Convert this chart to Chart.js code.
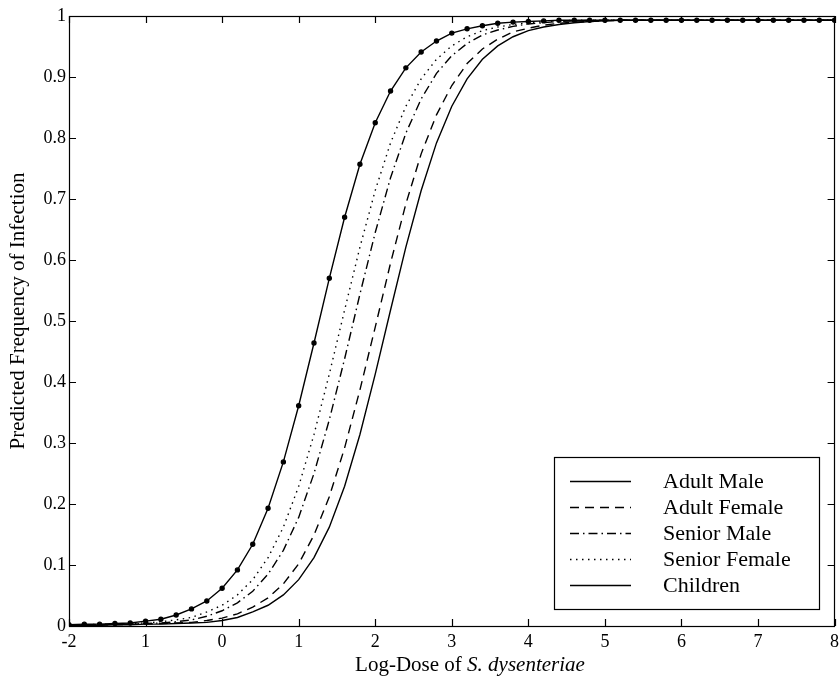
<!DOCTYPE html>
<html>
<head>
<meta charset="utf-8">
<script src="https://cdn.jsdelivr.net/npm/chart.js@4"></script>
<style>
  body { margin: 0; background: #fff; }
  #wrap { width: 840px; height: 676px; }
</style>
</head>
<body>
<div id="wrap"><canvas id="myChart"></canvas></div>
<script>
// log-dose grid, step 0.2
const doses = [
  -2.0, -1.8, -1.6, -1.4, -1.2, -1.0, -0.8, -0.6, -0.4, -0.2,
  0.0, 0.2, 0.4, 0.6, 0.8, 1.0, 1.2, 1.4, 1.6, 1.8,
  2.0, 2.2, 2.4, 2.6, 2.8, 3.0, 3.2, 3.4, 3.6, 3.8,
  4.0, 4.2, 4.4, 4.6, 4.8, 5.0, 5.2, 5.4, 5.6, 5.8,
  6.0, 6.2, 6.4, 6.6, 6.8, 7.0, 7.2, 7.4, 7.6, 7.8, 8.0
];

const adultMale = [
  0.001, 0.001, 0.001, 0.002, 0.002, 0.003, 0.003, 0.004, 0.005, 0.006,
  0.009, 0.014, 0.023, 0.034, 0.051, 0.076, 0.112, 0.162, 0.229, 0.314,
  0.413, 0.518, 0.621, 0.714, 0.792, 0.852, 0.897, 0.929, 0.951, 0.966,
  0.976, 0.982, 0.986, 0.989, 0.991, 0.992, 0.993, 0.993, 0.993, 0.993,
  0.993, 0.993, 0.993, 0.993, 0.993, 0.993, 0.993, 0.993, 0.993, 0.993, 0.993
];
const adultFemale = [
  0.001, 0.001, 0.002, 0.002, 0.003, 0.003, 0.004, 0.005, 0.006, 0.009,
  0.013, 0.020, 0.031, 0.046, 0.069, 0.102, 0.149, 0.212, 0.292, 0.387,
  0.490, 0.595, 0.692, 0.774, 0.838, 0.886, 0.922, 0.946, 0.962, 0.974,
  0.980, 0.985, 0.988, 0.990, 0.991, 0.992, 0.993, 0.993, 0.993, 0.993,
  0.993, 0.993, 0.993, 0.993, 0.993, 0.993, 0.993, 0.993, 0.993, 0.993, 0.993
];
const seniorMale = [
  0.001, 0.002, 0.002, 0.003, 0.003, 0.004, 0.005, 0.007, 0.010, 0.016,
  0.025, 0.038, 0.057, 0.085, 0.124, 0.178, 0.250, 0.338, 0.438, 0.544,
  0.645, 0.735, 0.808, 0.864, 0.906, 0.935, 0.955, 0.969, 0.977, 0.983,
  0.987, 0.989, 0.991, 0.992, 0.993, 0.993, 0.993, 0.993, 0.993, 0.993,
  0.993, 0.993, 0.993, 0.993, 0.993, 0.993, 0.993, 0.993, 0.993, 0.993, 0.993
];
const seniorFemale = [
  0.002, 0.002, 0.003, 0.003, 0.004, 0.005, 0.007, 0.010, 0.014, 0.023,
  0.034, 0.051, 0.076, 0.112, 0.162, 0.229, 0.314, 0.413, 0.518, 0.621,
  0.714, 0.792, 0.852, 0.897, 0.929, 0.951, 0.966, 0.976, 0.982, 0.986,
  0.989, 0.991, 0.992, 0.993, 0.993, 0.993, 0.993, 0.993, 0.993, 0.993,
  0.993, 0.993, 0.993, 0.993, 0.993, 0.993, 0.993, 0.993, 0.993, 0.993, 0.993
];
const children = [
  0.002, 0.003, 0.003, 0.004, 0.005, 0.008, 0.011, 0.018, 0.028, 0.041,
  0.062, 0.092, 0.134, 0.193, 0.269, 0.361, 0.464, 0.570, 0.670, 0.757,
  0.825, 0.877, 0.915, 0.941, 0.959, 0.972, 0.979, 0.984, 0.988, 0.990,
  0.991, 0.992, 0.993, 0.993, 0.993, 0.993, 0.993, 0.993, 0.993, 0.993,
  0.993, 0.993, 0.993, 0.993, 0.993, 0.993, 0.993, 0.993, 0.993, 0.993, 0.993
];

const xTicks = [-2, -1, 0, 1, 2, 3, 4, 5, 6, 7, 8];
const xTickLabels = ["-2", "1", "0", "1", "2", "3", "4", "5", "6", "7", "8"];
const yTickLabels = ["0", "0.1", "0.2", "0.3", "0.4", "0.5", "0.6", "0.7", "0.8", "0.9", "1"];

const FONT = '"Liberation Serif", "Times New Roman", serif';
const toPoints = (vals) => doses.map((d, i) => ({ x: d, y: vals[i] }));

// axis box, inward ticks on all four sides, axis titles
const frame = {
  id: "frame",
  afterDatasetsDraw(chart) {
    const { ctx, chartArea: a, scales } = chart;
    ctx.save();
    ctx.strokeStyle = "#000";
    ctx.lineWidth = 1.2;
    ctx.strokeRect(Math.round(a.left) + 0.5, Math.round(a.top) + 0.5,
      Math.round(a.right - a.left) - 1, Math.round(a.bottom - a.top));
    const len = 7;
    ctx.beginPath();
    xTicks.forEach((v) => {
      const px = Math.round(scales.x.getPixelForValue(v)) + 0.5;
      ctx.moveTo(px, a.bottom); ctx.lineTo(px, a.bottom - len);
      ctx.moveTo(px, a.top); ctx.lineTo(px, a.top + len);
    });
    yTickLabels.forEach((t, i) => {
      const py = Math.round(scales.y.getPixelForValue(i / 10)) + 0.5;
      ctx.moveTo(a.left, py); ctx.lineTo(a.left + len, py);
      ctx.moveTo(a.right, py); ctx.lineTo(a.right - len, py);
    });
    ctx.stroke();

    ctx.fillStyle = "#000";
    // x axis title with italic species name
    ctx.textBaseline = "alphabetic";
    const plain = "Log-Dose of ";
    const ital = "S. dysenteriae";
    ctx.font = "21px " + FONT;
    const w1 = ctx.measureText(plain).width;
    ctx.font = "italic 21px " + FONT;
    const w2 = ctx.measureText(ital).width;
    const x0 = 470 - (w1 + w2) / 2;
    ctx.font = "21px " + FONT;
    ctx.fillText(plain, x0, 671);
    ctx.font = "italic 21px " + FONT;
    ctx.fillText(ital, x0 + w1, 671);

    // y axis title
    ctx.translate(18, 311);
    ctx.rotate(-Math.PI / 2);
    ctx.font = "21px " + FONT;
    ctx.textAlign = "center";
    ctx.textBaseline = "middle";
    ctx.fillText("Predicted Frequency of Infection", 0, 0);
    ctx.restore();
  },
};

// boxed legend in the lower right
const boxLegend = {
  id: "boxLegend",
  afterDraw(chart) {
    const { ctx } = chart;
    const box = { left: 554, top: 457, right: 819, bottom: 609 };
    ctx.save();
    ctx.fillStyle = "#fff";
    ctx.fillRect(box.left, box.top, box.right - box.left, box.bottom - box.top);
    ctx.strokeStyle = "#000";
    ctx.lineWidth = 1.2;
    ctx.strokeRect(box.left + 0.5, box.top + 0.5, box.right - box.left, box.bottom - box.top);
    ctx.font = "22px " + FONT;
    ctx.textBaseline = "middle";
    chart.data.datasets.forEach((ds, i) => {
      const y = 481 + i * 26;
      ctx.beginPath();
      ctx.setLineDash(ds.borderDash || []);
      ctx.lineWidth = ds.borderWidth;
      ctx.moveTo(570, y + 0.5);
      ctx.lineTo(631, y + 0.5);
      ctx.stroke();
      ctx.setLineDash([]);
      ctx.fillStyle = "#000";
      ctx.fillText(ds.label, 663, y + 1);
    });
    ctx.restore();
  },
};

const lineBase = {
  borderColor: "#000",
  backgroundColor: "#000",
  borderWidth: 1.4,
  pointRadius: 0,
  tension: 0,
  fill: false,
};

new Chart(document.getElementById("myChart"), {
  type: "line",
  data: {
    datasets: [
      { ...lineBase, label: "Adult Male", data: toPoints(adultMale) },
      { ...lineBase, label: "Adult Female", data: toPoints(adultFemale), borderDash: [9, 6] },
      { ...lineBase, label: "Senior Male", data: toPoints(seniorMale), borderDash: [9, 4, 1.5, 4] },
      { ...lineBase, label: "Senior Female", data: toPoints(seniorFemale), borderDash: [1.5, 4.5] },
      { ...lineBase, label: "Children", data: toPoints(children), pointRadius: 2, pointStyle: "circle" },
    ],
  },
  options: {
    responsive: true,
    maintainAspectRatio: false,
    animation: false,
    layout: { padding: { top: 16, right: 2, left: 0, bottom: 0 } },
    plugins: {
      legend: { display: false },
      tooltip: { enabled: false },
    },
    scales: {
      x: {
        type: "linear",
        min: -2,
        max: 8,
        grid: { display: false, drawTicks: false },
        border: { display: false },
        ticks: {
          stepSize: 1,
          color: "#000",
          padding: 5,
          font: { family: FONT, size: 18 },
          maxRotation: 0,
          callback: (v, i) => xTickLabels[i],
        },
        afterFit: (s) => {
          s.height = 50;
          s.paddingLeft = 0;
          s.paddingRight = 0;
        },
      },
      y: {
        min: 0,
        max: 1,
        grid: { display: false, drawTicks: false },
        border: { display: false },
        ticks: {
          stepSize: 0.1,
          color: "#000",
          padding: 3,
          font: { family: FONT, size: 18 },
          callback: (v, i) => yTickLabels[i],
        },
        afterFit: (s) => {
          s.width = 69;
          s.paddingTop = 0;
          s.paddingBottom = 0;
        },
      },
    },
  },
  plugins: [frame, boxLegend],
});
</script>
</body>
</html>
